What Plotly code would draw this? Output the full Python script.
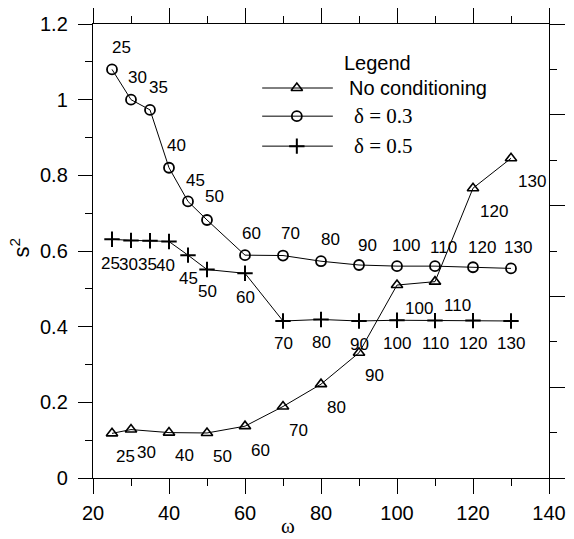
import plotly.graph_objects as go

# ---- data ----
omega_circ = [25, 30, 35, 40, 45, 50, 60, 70, 80, 90, 100, 110, 120, 130]
s2_circ = [1.08, 1.0, 0.973, 0.82, 0.731, 0.682, 0.589, 0.588, 0.573, 0.563, 0.560, 0.560, 0.557, 0.554]

omega_plus = [25, 30, 35, 40, 45, 50, 60, 70, 80, 90, 100, 110, 120, 130]
s2_plus = [0.631, 0.628, 0.627, 0.625, 0.589, 0.551, 0.541, 0.415, 0.419, 0.415, 0.417, 0.416, 0.416, 0.415]

omega_tri = [25, 30, 40, 50, 60, 70, 80, 90, 100, 110, 120, 130]
s2_tri = [0.118, 0.128, 0.120, 0.119, 0.137, 0.189, 0.248, 0.331, 0.510, 0.519, 0.766, 0.845]

x_ticks = [20, 40, 60, 80, 100, 120, 140]
y_ticks = [0, 0.2, 0.4, 0.6, 0.8, 1.0, 1.2]

legend_names = ["No conditioning", "δ = 0.3", "δ = 0.5"]

# ---- label offsets (pixels, style only) ----
circ_dx = [9, 6, 8, 7, 7, 7, 6, 7, 9, 8, 9, 8, 9, 7]
circ_dy = [22, 22, 22, 22, 21, 23, 22, 22, 22, 20, 21, 19, 20, 21]
plus_dx = [-2, -3, -3, -4, 0, 0, 0, 0, 0, 0, 0, 0, 0, 0]
plus_dy = [-24, -24, -24, -24, -23, -22, -24, -23, -23, -24, -23, -23, -23, -23]
tri_dx = [13, 15, 15, 15, 15, 15, 15, 15, 22, 22, 21, 21]
tri_dy = [-23, -23, -23, -24, -24, -24, -23, -23, -23, -24, -23, -23]

SANS = "Liberation Sans, Arial, sans-serif"
SERIF = "Liberation Serif, Times New Roman, serif"

fig = go.Figure()

line_style = dict(color="black", width=1)
fig.add_trace(go.Scatter(x=omega_tri, y=s2_tri, mode="lines+markers", line=line_style,
                         marker=dict(symbol="triangle-up-open", size=10, color="black",
                                     line=dict(width=1.6, color="black")),
                         cliponaxis=False, showlegend=False))
fig.add_trace(go.Scatter(x=omega_circ, y=s2_circ, mode="lines+markers", line=line_style,
                         marker=dict(symbol="circle-open", size=10, color="black",
                                     line=dict(width=1.8, color="black")),
                         cliponaxis=False, showlegend=False))
fig.add_trace(go.Scatter(x=omega_plus, y=s2_plus, mode="lines+markers", line=line_style,
                         marker=dict(symbol="cross-thin-open", size=11, color="black",
                                     line=dict(width=2, color="black")),
                         cliponaxis=False, showlegend=False))

annotations = []
lab_font = dict(family=SANS, size=17, color="black")
for xs, ys, dxs, dys in [(omega_circ, s2_circ, circ_dx, circ_dy),
                         (omega_plus, s2_plus, plus_dx, plus_dy),
                         (omega_tri, s2_tri, tri_dx, tri_dy)]:
    for xv, yv, dx, dy in zip(xs, ys, dxs, dys):
        annotations.append(dict(x=xv, y=yv, xref="x", yref="y", text=str(xv), showarrow=False,
                                xshift=dx, yshift=dy, xanchor="center", yanchor="middle",
                                font=lab_font))

# ---- manual legend ----
leg_rows = [0.859, 0.797, 0.731]
leg_x0, leg_xm, leg_x1 = 0.371, 0.447, 0.526
annotations.append(dict(x=0.546, y=0.914, xref="paper", yref="paper", text="Legend",
                        showarrow=False, xanchor="left", yanchor="middle",
                        font=dict(family=SANS, size=20, color="black")))
annotations.append(dict(x=0.557, y=leg_rows[0], xref="paper", yref="paper", text=legend_names[0],
                        showarrow=False, xanchor="left", yanchor="middle",
                        font=dict(family=SANS, size=20, color="black")))
for name, yr in zip(legend_names[1:], leg_rows[1:]):
    annotations.append(dict(x=0.568, y=yr, xref="paper", yref="paper", text=name,
                            showarrow=False, xanchor="left", yanchor="middle",
                            font=dict(family=SERIF, size=21, color="black")))
shapes = []
for yr in leg_rows:
    shapes.append(dict(type="line", xref="paper", yref="paper", x0=leg_x0, x1=leg_x1,
                       y0=yr, y1=yr, line=dict(color="black", width=1)))

sym = ["triangle-up-open", "circle-open", "cross-thin-open"]
sz = [10, 10, 11]
lw = [1.6, 1.8, 2]
for s, z, w, yr in zip(sym, sz, lw, leg_rows):
    fig.add_trace(go.Scatter(x=[leg_xm], y=[yr], xaxis="x3", yaxis="y3", mode="markers",
                             marker=dict(symbol=s, size=z, color="black", line=dict(width=w, color="black")),
                             showlegend=False, hoverinfo="skip", cliponaxis=False))

# axis titles
annotations.append(dict(x=0.428, y=-0.105, xref="paper", yref="paper", text="ω", showarrow=False,
                        xanchor="center", yanchor="middle", font=dict(family=SERIF, size=21, color="black")))
annotations.append(dict(x=-0.16, y=0.508, xref="paper", yref="paper", text="s<sup>2</sup>",
                        showarrow=False, textangle=-90, xanchor="center", yanchor="middle",
                        font=dict(family=SANS, size=22, color="black")))

tick_font = dict(family=SANS, size=20, color="black")
fig.update_layout(
    width=574, height=539,
    margin=dict(l=93, r=25, t=24, b=61),
    paper_bgcolor="white", plot_bgcolor="white",
    showlegend=False,
    annotations=annotations, shapes=shapes,
    xaxis=dict(range=[20, 140], tickvals=x_ticks, ticks="outside", ticklen=15, tickwidth=1.4,
               tickcolor="black", showline=True, linecolor="black", linewidth=1.4, mirror="ticks",
               showgrid=False, zeroline=False, tickfont=tick_font, ticklabelstandoff=2,
               automargin=False,
               minor=dict(dtick=10, ticks="outside", ticklen=7, tickwidth=1.4, tickcolor="black",
                          showgrid=False)),
    yaxis=dict(range=[0, 1.2], tickvals=y_ticks, ticks="outside", ticklen=14, tickwidth=1.4,
               tickcolor="black", showline=True, linecolor="black", linewidth=1.4,
               showgrid=False, zeroline=False, tickfont=tick_font, ticklabelstandoff=6,
               automargin=False,
               minor=dict(dtick=0.1, ticks="outside", ticklen=7, tickwidth=1.4, tickcolor="black",
                          showgrid=False)),
    yaxis2=dict(range=[0, 1.0], overlaying="y", side="right", anchor="x", dtick=0.2,
                ticks="outside", ticklen=15, tickwidth=1.4, tickcolor="black",
                showline=True, linecolor="black", linewidth=1.4, showticklabels=False,
                showgrid=False, zeroline=False, automargin=False,
                minor=dict(dtick=0.1, ticks="outside", ticklen=7, tickwidth=1.4, tickcolor="black",
                           showgrid=False)),
    xaxis3=dict(range=[0, 1], overlaying="x", visible=False, automargin=False),
    yaxis3=dict(range=[0, 1], overlaying="y", visible=False, anchor="x3", automargin=False),
)
# dummy trace to show yaxis2
fig.add_trace(go.Scatter(x=[None], y=[None], yaxis="y2", showlegend=False))

fig.write_html("out.html", config=dict(displayModeBar=False),
               post_script="document.body.style.margin='0';document.body.style.overflow='hidden';")
